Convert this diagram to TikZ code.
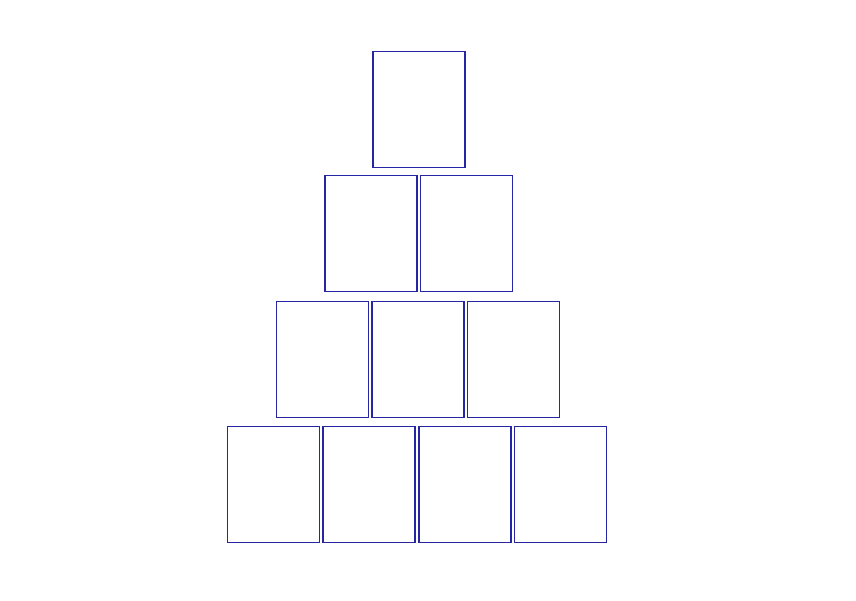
\documentclass[tikz,border=0pt]{standalone}
\usepackage{tikz}
\definecolor{boxblue}{RGB}{38,38,165}
\begin{document}
\begin{tikzpicture}[x=1pt,y=-1pt,
	card/.style={draw=boxblue,line width=1.5pt,rectangle,inner sep=0pt,minimum width=92pt,minimum height=116pt}]
	\useasboundingbox (0,0) rectangle (856,600);
	%TOP
	\node[card] (a1) at (419,109.5) {};
	%SECOND ROW
	\node[card] (b1) at (371,233.5) {};
	\node[card] (b2) at (466.5,233.5) {};
	%THIRD ROW
	\node[card] (c1) at (322.5,359.5) {};
	\node[card] (c2) at (418,359.5) {};
	\node[card] (c3) at (513.5,359.5) {};
	%BOTTOM
	\node[card] (d1) at (273.5,484.5) {};
	\node[card] (d2) at (369.2,484.5) {};
	\node[card] (d3) at (464.9,484.5) {};
	\node[card] (d4) at (560.6,484.5) {};
\end{tikzpicture}
\end{document}
